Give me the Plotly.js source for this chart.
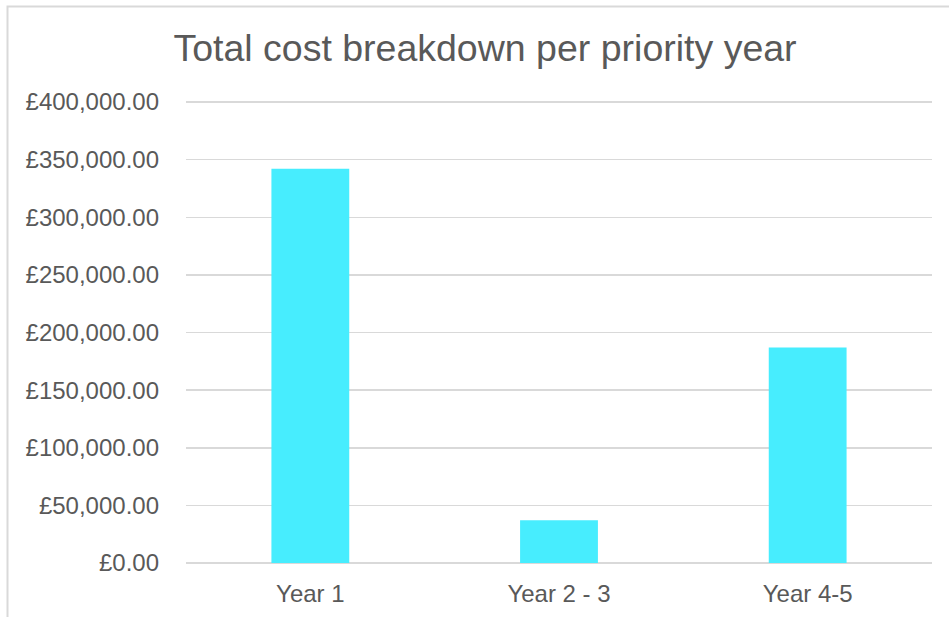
<!DOCTYPE html>
<html>
<head>
<meta charset="utf-8">
<script src="https://cdn.plot.ly/plotly-3.0.1.min.js"></script>
<style>
  html, body { margin: 0; padding: 0; background: #ffffff; }
  #chart { width: 949px; height: 617px; }
</style>
</head>
<body>
<div id="chart"></div>
<script>
const categories = ["Year 1", "Year 2 - 3", "Year 4-5"];
const totalCost = [342000, 37000, 187000];
const tickValues = [0, 50000, 100000, 150000, 200000, 250000, 300000, 350000, 400000];
const tickLabels = ["£0.00", "£50,000.00", "£100,000.00", "£150,000.00", "£200,000.00",
                    "£250,000.00", "£300,000.00", "£350,000.00", "£400,000.00"];
const chartTitle = "Total cost breakdown per priority year";

const W = 949, H = 617;
const m = { l: 186, r: 17, t: 100, b: 54 };
const pw = W - m.l - m.r, ph = H - m.t - m.b;
// pixel for 400000 is at y=102 -> extend range slightly so the top gridline is drawn
const yTop = 400000 * ph / (H - m.b - 102);
function px2x(p) { return (p - m.l) / pw; }
function px2y(p) { return (H - m.b - p) / ph; }

const trace = {
  type: "bar",
  x: categories,
  y: totalCost,
  marker: { color: "#47EDFE", line: { width: 0 } },
  hoverinfo: "x+y"
};

const layout = {
  width: W, height: H,
  margin: m,
  paper_bgcolor: "#ffffff",
  plot_bgcolor: "#ffffff",
  font: { family: "Liberation Sans, Arial, sans-serif", color: "#595959", size: 24 },
  title: {
    text: chartTitle,
    font: { family: "Liberation Sans, Arial, sans-serif", size: 37.5, color: "#595959" },
    x: 485 / W, xanchor: "center", xref: "container",
    y: 1 - 48 / H, yanchor: "middle", yref: "container"
  },
  bargap: 0.687,
  showlegend: false,
  xaxis: {
    type: "category",
    showgrid: false,
    showline: false,
    zeroline: false,
    ticks: "",
    ticklabelstandoff: 14,
    tickfont: { size: 24, color: "#595959" }
  },
  yaxis: {
    range: [0, yTop],
    tickvals: tickValues,
    ticktext: tickLabels,
    showgrid: true,
    gridcolor: "#d9d9d9",
    gridwidth: 1.5,
    zeroline: true,
    zerolinecolor: "#d9d9d9",
    zerolinewidth: 1.5,
    showline: false,
    ticks: "",
    ticklabelstandoff: 26,
    tickfont: { size: 24, color: "#595959" },
    fixedrange: true
  },
  shapes: [{
    type: "rect", xref: "paper", yref: "paper",
    x0: px2x(7.5), x1: px2x(980), y0: px2y(660), y1: px2y(6.5),
    line: { color: "#d9d9d9", width: 2 },
    fillcolor: "rgba(0,0,0,0)",
    layer: "below"
  }]
};

Plotly.newPlot("chart", [trace], layout, { displayModeBar: false, staticPlot: true });
</script>
</body>
</html>
